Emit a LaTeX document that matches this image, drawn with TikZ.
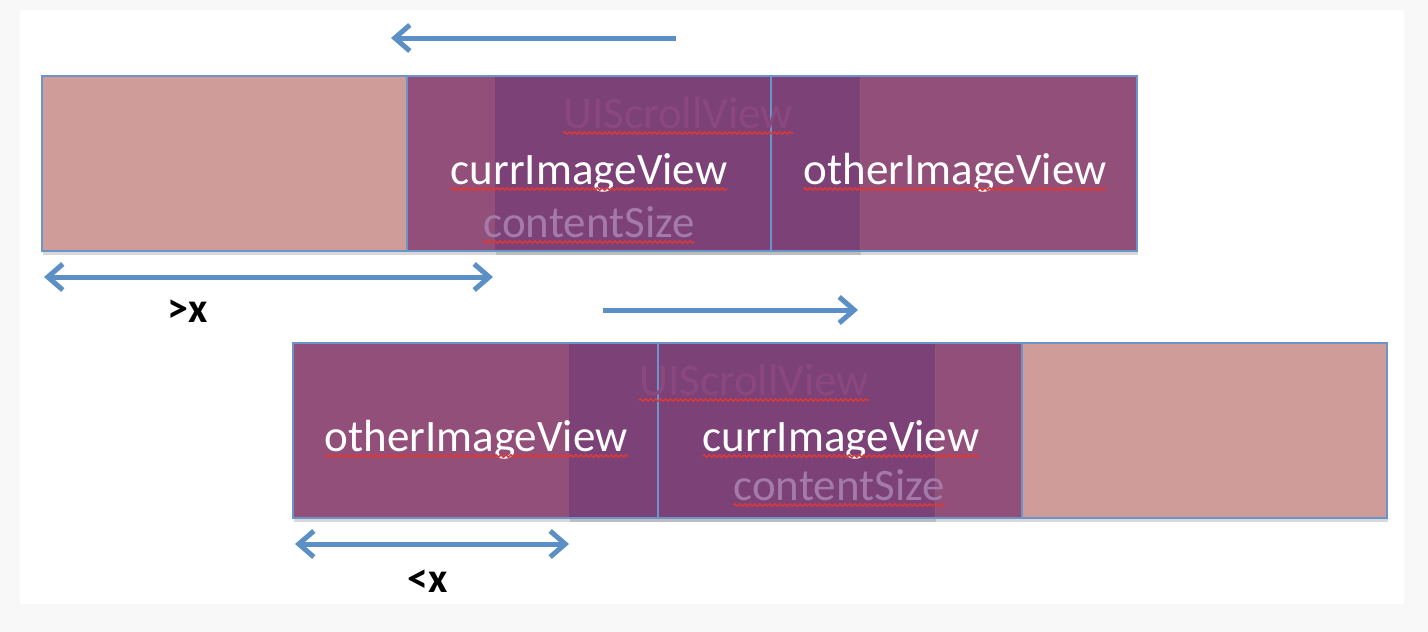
\documentclass[tikz,border=0pt]{standalone}
\usepackage{fontspec}
\setmainfont{Carlito}
\usetikzlibrary{calc,arrows.meta,decorations.pathmorphing,shadows}

\definecolor{pagegray}{HTML}{F8F8F8}
\definecolor{padpink}{HTML}{D09C9A}
\definecolor{viewpurple}{HTML}{914F79}
\definecolor{scrollpurple}{HTML}{7C4277}
\definecolor{edgeblue}{HTML}{6A95C9}
\definecolor{arrowblue}{HTML}{5B8FC6}
\definecolor{faintlabel}{HTML}{8A487E}
\definecolor{sizegray}{HTML}{A37AA8}
\definecolor{spellred}{HTML}{D83A3A}

\tikzset{
  box/.style={draw=edgeblue, line width=2.5pt},
  boxshadow/.style={drop shadow={shadow xshift=1pt, shadow yshift=-4pt, opacity=0.3}},
  move/.style={draw=arrowblue, line width=5pt, -{Straight Barb[length=15pt,width=26pt]}},
  span/.style={move, {Straight Barb[length=15pt,width=26pt]}-{Straight Barb[length=15pt,width=26pt]}},
  viewlabel/.style={anchor=base, inner sep=0pt, text=white, font=\fontsize{45}{49}\selectfont},
  scrolllabel/.style={viewlabel, text=faintlabel},
  sizelabel/.style={viewlabel, text=sizegray},
  offlabel/.style={anchor=base, inner sep=0pt, font=\fontsize{42}{46}\selectfont\bfseries},
  spell/.style={draw=spellred, line width=1.5pt,
    decorate, decoration={snake, segment length=5pt, amplitude=1.2pt}}
}

% wavy underline below a label node
\newcommand\spellmark[1]{%
  \draw[spell] ($(#1.base west)+(0,5)$) -- ($(#1.base east)+(0,5)$);}

\begin{document}
\begin{tikzpicture}[x=1pt,y=-1pt]
  % page
  \useasboundingbox[fill=pagegray] (0,0) rectangle (1428,632);
  \fill[white] (20,10) rectangle (1404,604);

  % ---- top row ----
  \coordinate (padA) at (42,76);
  \coordinate (curA) at (407,76);
  \coordinate (othA) at (771,76);
  \coordinate (endA) at (1137,251);
  \coordinate (scrA) at (495,76);
  \coordinate (scrEndA) at (860,251);

  \fill[padpink, boxshadow] (padA) rectangle (curA |- endA);
  \fill[viewpurple, boxshadow] (curA) rectangle (endA);
  \fill[scrollpurple, boxshadow] (scrA) rectangle (scrEndA);
  \draw[box] (padA) rectangle (curA |- endA);
  \draw[box] (curA) rectangle (othA |- endA);
  \draw[box] (othA) rectangle (endA);

  \node[scrolllabel] (scrlA) at (678,128) {UIScrollView};
  \node[viewlabel] (curlA) at (589,184) {currImageView};
  \node[viewlabel] (othlA) at (955,184) {otherImageView};
  \node[sizelabel] (sizA) at (589,237) {contentSize};
  \spellmark{scrlA} \spellmark{curlA} \spellmark{othlA} \spellmark{sizA}

  % moves left
  \coordinate (moveAR) at (676,38);
  \coordinate (moveAL) at (391,38);
  \draw[move] (moveAR) -- (moveAL);

  % offset of the scroll view
  \coordinate (spanAL) at (44,277);
  \coordinate (spanAR) at (493,277);
  \draw[span] (spanAL) -- (spanAR);
  \node[offlabel] (offA) at (188,322) {>x};

  % ---- bottom row ----
  \coordinate (othB) at (293,343);
  \coordinate (curB) at (658,343);
  \coordinate (padB) at (1022,343);
  \coordinate (endB) at (1387,518);
  \coordinate (scrB) at (569,343);
  \coordinate (scrEndB) at (935,518);

  \fill[padpink, boxshadow] (padB) rectangle (endB);
  \fill[viewpurple, boxshadow] (othB) rectangle (padB |- endB);
  \fill[scrollpurple, boxshadow] (scrB) rectangle (scrEndB);
  \draw[box] (othB) rectangle (curB |- endB);
  \draw[box] (curB) rectangle (padB |- endB);
  \draw[box] (padB) rectangle (endB);

  \node[scrolllabel] (scrlB) at (754,395) {UIScrollView};
  \node[viewlabel] (othlB) at (476,451) {otherImageView};
  \node[viewlabel] (curlB) at (841,451) {currImageView};
  \node[sizelabel] (sizB) at (839,500) {contentSize};
  \spellmark{scrlB} \spellmark{othlB} \spellmark{curlB} \spellmark{sizB}

  % moves right
  \coordinate (moveBL) at (603,310);
  \coordinate (moveBR) at (858,310);
  \draw[move] (moveBL) -- (moveBR);

  % offset of the scroll view
  \coordinate (spanBL) at (295,544);
  \coordinate (spanBR) at (569,544);
  \draw[span] (spanBL) -- (spanBR);
  \node[offlabel] (offB) at (428,592) {<x};
\end{tikzpicture}
\end{document}
